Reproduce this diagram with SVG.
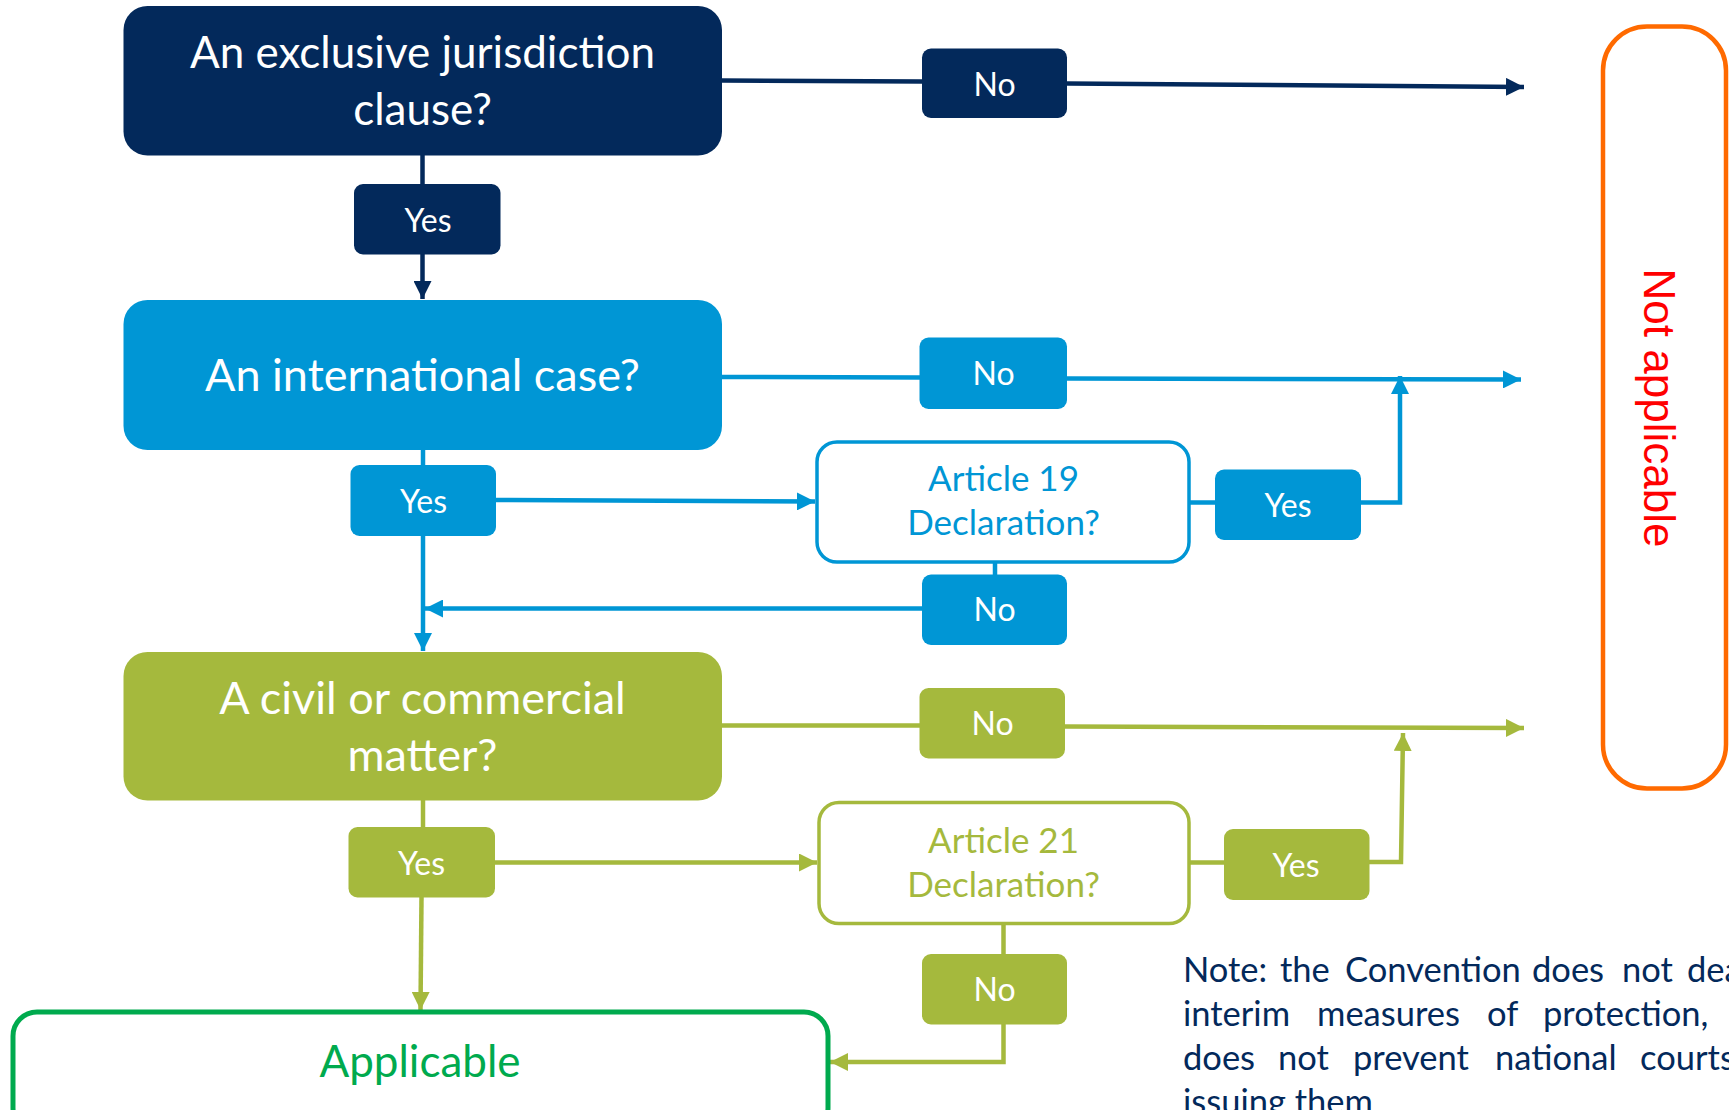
<svg xmlns="http://www.w3.org/2000/svg" width="1729" height="1110" viewBox="0 0 1729 1110">
<style>
.t{font-family:Lato,"Open Sans","DejaVu Sans",sans-serif;text-anchor:middle}
.big{font-size:45px;fill:#fff}
.big44{font-size:44px;fill:#fff}
.lbl{font-size:32px;fill:#fff}
.navy{fill:#03295B}
.blue{fill:#0096D5}
.green{fill:#A5B93D}
.cn{fill:none;stroke-width:4.5}
.sn{stroke:#03295B}
.sb{stroke:#0096D5}
.sg{stroke:#A5B93D}
.note{font-family:Lato,"Open Sans","DejaVu Sans",sans-serif;font-size:34.5px;fill:#03295B}
</style>
<defs>
<marker id="an" viewBox="0 0 18 18" markerUnits="userSpaceOnUse" markerWidth="18" markerHeight="18" refX="18" refY="9" orient="auto"><path d="M0,0 L18,9 L0,18 z" fill="#03295B"/></marker>
<marker id="ab" viewBox="0 0 18 18" markerUnits="userSpaceOnUse" markerWidth="18" markerHeight="18" refX="18" refY="9" orient="auto"><path d="M0,0 L18,9 L0,18 z" fill="#0096D5"/></marker>
<marker id="ag" viewBox="0 0 18 18" markerUnits="userSpaceOnUse" markerWidth="18" markerHeight="18" refX="18" refY="9" orient="auto"><path d="M0,0 L18,9 L0,18 z" fill="#A5B93D"/></marker>
</defs>
<rect width="1729" height="1110" fill="#fff"/>

<g id="connectors">
<line class="cn sn" x1="722" y1="80.5" x2="922" y2="81.5"/>
<line class="cn sn" x1="1067" y1="83.5" x2="1524" y2="87" marker-end="url(#an)"/>
<line class="cn sn" x1="422.5" y1="155" x2="422.5" y2="184"/>
<line class="cn sn" x1="422.5" y1="254" x2="422.5" y2="299" marker-end="url(#an)"/>

<line class="cn sb" x1="722" y1="377" x2="920" y2="377.5"/>
<line class="cn sb" x1="1067" y1="378.5" x2="1521" y2="379.5" marker-end="url(#ab)"/>
<line class="cn sb" x1="423" y1="450" x2="423" y2="465"/>
<line class="cn sb" x1="496" y1="500" x2="815" y2="501.5" marker-end="url(#ab)"/>
<line class="cn sb" x1="1190" y1="502.5" x2="1215" y2="502.5"/>
<path class="cn sb" d="M1361,502.5 H1400 V376" marker-end="url(#ab)"/>
<line class="cn sb" x1="995" y1="562" x2="995" y2="575"/>
<line class="cn sb" x1="922" y1="608.5" x2="425" y2="608.5" marker-end="url(#ab)"/>
<line class="cn sb" x1="423" y1="536" x2="423" y2="651" marker-end="url(#ab)"/>

<line class="cn sg" x1="722" y1="725.5" x2="920" y2="725.5"/>
<line class="cn sg" x1="1065" y1="726.5" x2="1524" y2="728" marker-end="url(#ag)"/>
<line class="cn sg" x1="423" y1="800" x2="423" y2="827"/>
<line class="cn sg" x1="421.5" y1="897" x2="420.5" y2="1010" marker-end="url(#ag)"/>
<line class="cn sg" x1="495" y1="862.5" x2="817" y2="862.5" marker-end="url(#ag)"/>
<line class="cn sg" x1="1190" y1="862.5" x2="1224" y2="862.5"/>
<path class="cn sg" d="M1369,862 H1401 L1403,733" marker-end="url(#ag)"/>
<line class="cn sg" x1="1003.5" y1="924" x2="1003.5" y2="954"/>
<path class="cn sg" d="M1003.5,1024 V1062 H830" marker-end="url(#ag)"/>
</g>

<g id="q1">
<rect class="navy" x="123.5" y="6" width="598.5" height="149.5" rx="24"/>
<text class="t big44" x="422.5" y="68">An exclusive jurisdiction</text>
<text class="t big44" x="422.5" y="125">clause?</text>
</g>
<g id="no1"><rect class="navy" x="922" y="48.5" width="145" height="69.5" rx="9"/><text class="t lbl" x="994.5" y="96">No</text></g>
<g id="yes1"><rect class="navy" x="354" y="184" width="146.5" height="70.5" rx="9"/><text class="t lbl" x="428" y="232">Yes</text></g>

<g id="q2">
<rect class="blue" x="123.5" y="300" width="598.5" height="150" rx="24"/>
<text class="t big" x="422.5" y="391">An international case?</text>
</g>
<g id="no2"><rect class="blue" x="919.5" y="337.5" width="147.5" height="71.5" rx="9"/><text class="t lbl" x="993.5" y="385">No</text></g>
<g id="yes2"><rect class="blue" x="350.5" y="465" width="145.5" height="71" rx="9"/><text class="t lbl" x="423.5" y="513">Yes</text></g>
<g id="art19">
<rect x="817" y="442" width="372" height="120" rx="20" fill="#fff" stroke="#0096D5" stroke-width="3.5"/>
<text class="t" x="1003.5" y="491" font-size="35" fill="#0096D5">Article 19</text>
<text class="t" x="1003.5" y="535" font-size="35" fill="#0096D5">Declaration?</text>
</g>
<g id="yes3"><rect class="blue" x="1215" y="469.5" width="146" height="70.5" rx="9"/><text class="t lbl" x="1288" y="517">Yes</text></g>
<g id="no3"><rect class="blue" x="922" y="574.5" width="145" height="70.5" rx="9"/><text class="t lbl" x="994.5" y="621">No</text></g>

<g id="q3">
<rect class="green" x="123.5" y="652" width="598.5" height="148.5" rx="24"/>
<text class="t big" x="422.5" y="714">A civil or commercial</text>
<text class="t big" x="422.5" y="771">matter?</text>
</g>
<g id="no4"><rect class="green" x="919.5" y="688" width="145.5" height="70.5" rx="9"/><text class="t lbl" x="992.5" y="735">No</text></g>
<g id="yes4"><rect class="green" x="348.5" y="827" width="146.5" height="70.5" rx="9"/><text class="t lbl" x="421.5" y="875">Yes</text></g>
<g id="art21">
<rect x="819" y="802.5" width="370" height="121" rx="20" fill="#fff" stroke="#A5B93D" stroke-width="3.5"/>
<text class="t" x="1003.5" y="853" font-size="35" fill="#A5B93D">Article 21</text>
<text class="t" x="1003.5" y="897" font-size="35" fill="#A5B93D">Declaration?</text>
</g>
<g id="yes5"><rect class="green" x="1224" y="829" width="145.5" height="71" rx="9"/><text class="t lbl" x="1296" y="877">Yes</text></g>
<g id="no5"><rect class="green" x="922" y="954" width="145" height="70.5" rx="9"/><text class="t lbl" x="994.5" y="1001">No</text></g>

<g id="applicable">
<rect x="13" y="1012" width="815" height="120" rx="24" fill="#fff" stroke="#00AA4E" stroke-width="5"/>
<text class="t" x="420" y="1077" font-size="44" fill="#00AA4E">Applicable</text>
</g>

<g id="notapplicable">
<rect x="1603" y="26.5" width="123" height="762" rx="44" fill="#fff" stroke="#FF6A00" stroke-width="4.5"/>
<text transform="translate(1644,408) rotate(90)" x="0" y="0" text-anchor="middle" font-family="'Liberation Sans',Arial,sans-serif" font-size="44" fill="#FF0000">Not applicable</text>
</g>

<g id="note" class="note">
<text y="982"><tspan x="1183">Note:</tspan><tspan x="1280">the</tspan><tspan x="1345">Convention</tspan><tspan x="1532">does</tspan><tspan x="1622">not</tspan><tspan x="1687">dea</tspan></text>
<text y="1026"><tspan x="1183">interim</tspan><tspan x="1317">measures</tspan><tspan x="1487">of</tspan><tspan x="1543">protection,</tspan></text>
<text y="1070"><tspan x="1183">does</tspan><tspan x="1278">not</tspan><tspan x="1353">prevent</tspan><tspan x="1495">national</tspan><tspan x="1640">courts</tspan></text>
<text y="1114"><tspan x="1183">issuing them</tspan></text>
</g>
</svg>
